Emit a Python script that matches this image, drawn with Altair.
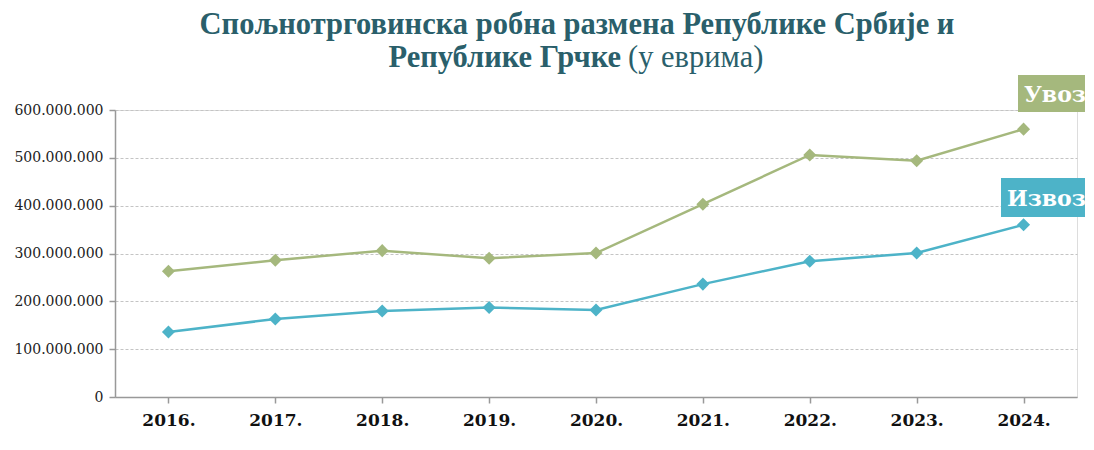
import altair as alt
import pandas as pd

years = ["2016.", "2017.", "2018.", "2019.", "2020.", "2021.", "2022.", "2023.", "2024."]
uvoz = [263e6, 286e6, 306e6, 290e6, 301e6, 403e6, 506e6, 494e6, 560e6]
izvoz = [136e6, 163e6, 180e6, 187e6, 182e6, 236e6, 284e6, 301e6, 360e6]
series_names = ["Увоз", "Извоз"]
series_colors = ["#A5B87D", "#4DB3C8"]
y_ticks = [0, 100e6, 200e6, 300e6, 400e6, 500e6, 600e6]

rows = []
for name, vals in zip(series_names, [uvoz, izvoz]):
    for yr, v in zip(years, vals):
        rows.append({"Година": yr, "Серија": name, "Вредност": v})
df = pd.DataFrame(rows)

W, H = 962, 287
TITLE_COLOR = "#2A5F6B"

x = alt.X("Година:N", sort=years,
          scale=alt.Scale(paddingInner=0, paddingOuter=0),
          axis=alt.Axis(title=None, labelAngle=0, bandPosition=0, grid=False,
                        labelFont="DejaVu Serif", labelFontWeight="bold", labelFontSize=17,
                        labelColor="#111111", labelPadding=9, tickSize=6, tickColor="#999999",
                        domainColor="#999999", domainWidth=1.5, tickWidth=1.5))
y = alt.Y("Вредност:Q",
          scale=alt.Scale(domain=[0, 600e6], nice=False),
          axis=alt.Axis(title=None, values=y_ticks, grid=True, gridColor="#C4C4C4",
                        gridDash=[3, 2], gridWidth=1,
                        labelExpr="replace(format(datum.value, ','), /,/g, '.')",
                        labelFont="DejaVu Serif", labelFontSize=14, labelColor="#222222",
                        tickSize=6, tickColor="#999999", domainColor="#999999",
                        domainWidth=1.5, tickWidth=1.5, labelPadding=6))
color = alt.Color("Серија:N", scale=alt.Scale(domain=series_names, range=series_colors),
                  legend=None)

base = alt.Chart(df).encode(x=x, y=y, color=color)
lines = base.mark_line(strokeWidth=2.5)
points = base.mark_point(shape="diamond", filled=True, size=170, opacity=1)

one = pd.DataFrame({"a": [0]})

def txt(text, xv, yv, size, weight, color, align, font):
    return alt.Chart(one).mark_text(text=text, fontSize=size, fontWeight=weight, color=color,
                                    align=align, baseline="alphabetic", font=font).encode(
        x=alt.value(xv), y=alt.value(yv))

def box(x1, x2, y1, y2, color):
    return alt.Chart(one).mark_rect(color=color).encode(
        x=alt.value(x1), x2=alt.value(x2), y=alt.value(y1), y2=alt.value(y2))

title1 = txt("Спољнотрговинска робна размена Републике Србије и", 462, -76, 30.5, "bold",
             TITLE_COLOR, "center", "Liberation Serif")
title2a = txt("Републике Грчке", 506, -43, 30.5, "bold", TITLE_COLOR, "right", "Liberation Serif")
title2b = txt("(у еврима)", 513, -43, 30.5, "normal", TITLE_COLOR, "left", "Liberation Serif")

uvoz_box = box(903, 1000, -35, 2, series_colors[0])
uvoz_txt = txt("Увоз", 909, -8, 22, "bold", "white", "left", "DejaVu Serif")
izvoz_box = box(886, 1000, 68, 107, series_colors[1])
izvoz_txt = txt("Извоз", 892, 96, 22, "bold", "white", "left", "DejaVu Serif")

chart = alt.layer(lines, points, title1, title2a, title2b,
                  uvoz_box, uvoz_txt, izvoz_box, izvoz_txt).properties(
    width=W, height=H,
    autosize=alt.AutoSizeParams(type="none"),
    padding={"left": 107, "top": 102, "right": 8, "bottom": 40},
).configure_view(stroke=None).configure(background="white")

chart.save("out.html", embed_options={"renderer": "svg", "actions": False})
